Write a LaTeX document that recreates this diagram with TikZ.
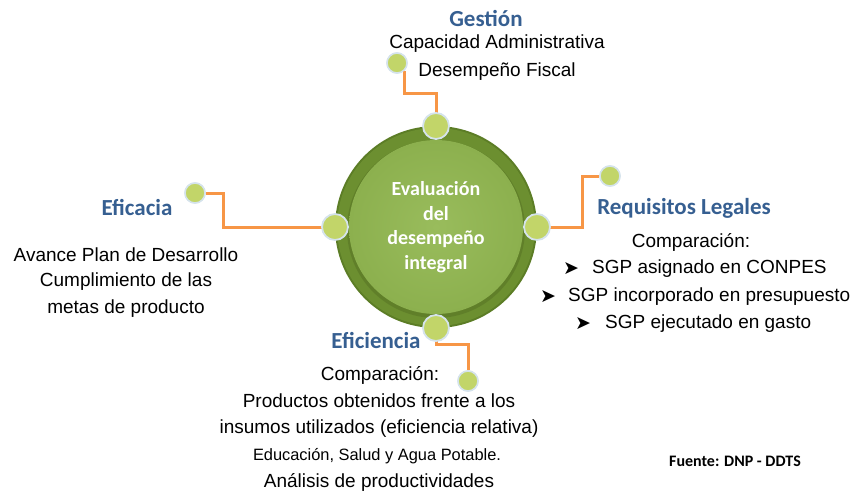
\documentclass[tikz,border=0pt]{standalone}
\usepackage{fontspec}
\usetikzlibrary{calc}
\setmainfont{Liberation Sans}
\newfontfamily\carlito{Carlito}
\newfontfamily\dejavu{DejaVu Sans}
\definecolor{titleblue}{HTML}{365F91}
\definecolor{linkorange}{HTML}{F79646}
\definecolor{dotgreen}{HTML}{C2D569}
\definecolor{dotborder}{HTML}{D5E3EC}
\definecolor{ringgreen}{HTML}{6C8F30}
\definecolor{ringdark}{HTML}{5C7D26}
\definecolor{innergreen}{HTML}{8CB04E}
\definecolor{innerlight}{HTML}{99BC5C}
\tikzset{
  title/.style={font=\carlito\bfseries\fontsize{23}{26}\selectfont, text=titleblue, inner sep=0pt},
  body/.style={font=\fontsize{19}{27}\selectfont, inner sep=0pt},
  small/.style={font=\fontsize{16.4}{18}\selectfont, inner sep=0pt},
  bul/.style={font=\dejavu\fontsize{19}{19}\selectfont, inner sep=0pt},
  ringdot/.style={circle, fill=dotgreen, draw=dotborder, line width=1.8pt, minimum size=26pt, inner sep=0pt},
  enddot/.style={circle, fill=dotgreen, draw=dotborder, line width=1.5pt, minimum size=20pt, inner sep=0pt},
  link/.style={draw=linkorange, line width=3pt}
}
\begin{document}
\begin{tikzpicture}[x=1pt,y=-1pt]
\useasboundingbox (0,0) rectangle (852,493);
% central circle
\coordinate (c) at (436,227);
\fill[ringdark] (c) circle[radius=101];
\fill[ringgreen] (c) circle[radius=99];
\fill[ringdark!80!black, opacity=0.35] ($(c)+(0,2)$) circle[radius=89];
\shade[inner color=innerlight, outer color=innergreen] (c) circle[radius=87];
\node[align=center, font=\carlito\bfseries\fontsize{20}{24.5}\selectfont, text=white] (center) at (436,227) {Evaluación\\del\\desempeño\\integral};
% ring dots and end dots positions
\coordinate (gtp) at (436,126);
\coordinate (btp) at (436,328);
\coordinate (ltp) at (335,227);
\coordinate (rtp) at (537,227);
\node[enddot] (ge) at (397,63) {};
\node[enddot] (re) at (610,176) {};
\node[enddot] (le) at (195,193) {};
\node[enddot] (be) at (468,381) {};
% connectors
\draw[link] (gtp) -- ++(0,-33) -| (ge.south east);
\draw[link] (rtp) -- ++(45,0) |- (re.west);
\draw[link] (ltp) -- ++(-112,0) |- (le.east);
\draw[link] (btp) -- ++(0,16) -| (be.north);
% redraw end dots on top
\node[enddot] at (ge) {};
\node[enddot] at (re) {};
\node[enddot] at (le) {};
\node[enddot] at (be) {};
\node[ringdot] (gt) at (gtp) {};
\node[ringdot] (bt) at (btp) {};
\node[ringdot] (lt) at (ltp) {};
\node[ringdot] (rt) at (rtp) {};
% Gestion
\node[title] (g) at (486,18) {Gestión};
\node[body] (g1) at (497,44) {Capacidad Administrativa};
\node[body] (g2) at (497,72) {Desempeño Fiscal};
% Eficacia
\node[title] (e) at (137,207) {Eficacia};
\node[body] (e1) at (126,255) {Avance Plan de Desarrollo};
\node[body] (e2) at (126,282) {Cumplimiento de las};
\node[body] (e3) at (126,309) {metas de producto};
% Requisitos legales
\node[title] (r) at (684,208) {Requisitos Legales};
\node[body] (r0) at (691,242) {Comparación:};
\node[bul] (b1) at (571,269) {➤};
\node[body, anchor=west] (r1) at (592,269) {SGP asignado en CONPES};
\node[bul] (b2) at (548,297) {➤};
\node[body, anchor=west] (r2) at (568,297) {SGP incorporado en presupuesto};
\node[bul] (b3) at (583,324) {➤};
\node[body, anchor=west] (r3) at (605,324) {SGP ejecutado en gasto};
% Eficiencia
\node[title] (f) at (376,340) {Eficiencia};
\node[body] (f1) at (380,375) {Comparación:};
\node[body] (f2) at (379,401) {Productos obtenidos frente a los};
\node[body] (f3) at (379,429) {insumos utilizados (eficiencia relativa)};
\node[small] (f4) at (377,456) {Educación, Salud y Agua Potable.};
\node[body] (f5) at (379,482) {Análisis de productividades};
% source
\node[font=\carlito\bfseries\fontsize{16}{18}\selectfont, inner sep=0pt] (src) at (735,461) {Fuente: DNP - DDTS};
\end{tikzpicture}
\end{document}
